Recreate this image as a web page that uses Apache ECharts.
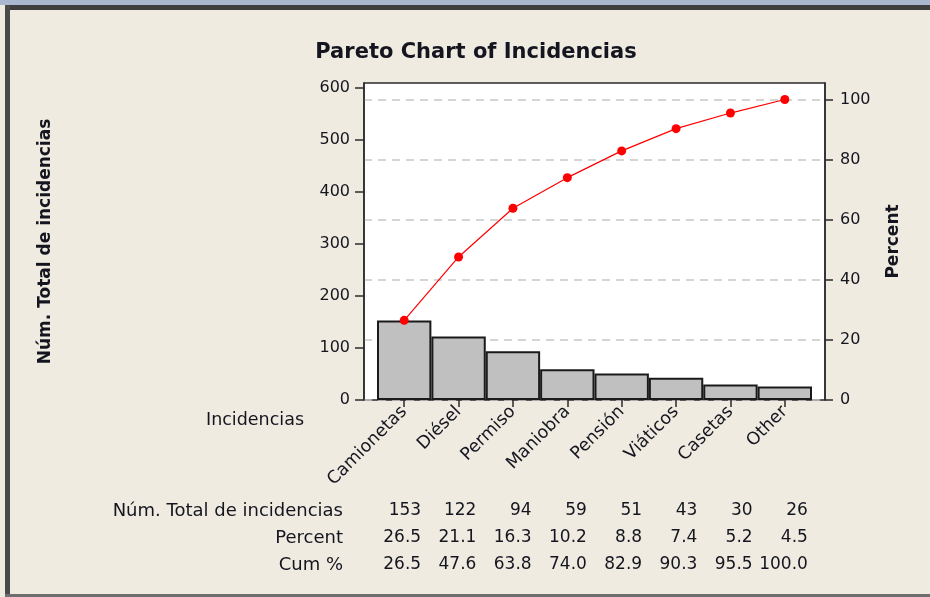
<!DOCTYPE html>
<html>
<head>
<meta charset="utf-8">
<script src="https://cdn.jsdelivr.net/npm/echarts@6/dist/echarts.min.js"></script>
<style>
  html, body { margin: 0; padding: 0; background: #EFEBE1; }
  #chart { width: 930px; height: 597px; }
</style>
</head>
<body>
<div id="chart"></div>
<script>
// Pareto data (Minitab style)
const categories = ['Camionetas', 'Diésel', 'Permiso', 'Maniobra', 'Pensión', 'Viáticos', 'Casetas', 'Other'];
const counts = [153, 122, 94, 59, 51, 43, 30, 26];
const percents = [26.5, 21.1, 16.3, 10.2, 8.8, 7.4, 5.2, 4.5];
const cumPercents = [26.5, 47.6, 63.8, 74.0, 82.9, 90.3, 95.5, 100.0];
const rowLabels = ['Núm. Total de incidencias', 'Percent', 'Cum %'];
const countTicks = [0, 100, 200, 300, 400, 500, 600];
const percentTicks = [0, 20, 40, 60, 80, 100];

const FONT = 'DejaVu Sans';
const INK = '#15151f';
const AXIS = '#2b2b2b';

// table cells: [column, row, text]
const tableCells = [];
counts.forEach((v, i) => tableCells.push([i, 0, String(v)]));
percents.forEach((v, i) => tableCells.push([i, 1, v.toFixed(1)]));
cumPercents.forEach((v, i) => tableCells.push([i, 2, v.toFixed(1)]));

const chart = echarts.init(document.getElementById('chart'), null, { renderer: 'canvas' });

chart.setOption({
  backgroundColor: '#EFEBE1',
  animation: false,
  textStyle: { fontFamily: FONT, color: INK },
  title: {
    text: 'Pareto Chart of Incidencias',
    left: 471,
    textAlign: 'center',
    top: 37,
    textStyle: { fontFamily: FONT, fontSize: 21, fontWeight: 'bold', color: INK }
  },
  graphic: [
    { type: 'rect', shape: { x: 0, y: 0, width: 930, height: 5 }, style: { fill: '#AAB8CF' }, silent: true },
    { type: 'rect', shape: { x: 5, y: 5, width: 925, height: 5 }, style: { fill: '#3e3e3e' }, silent: true },
    { type: 'rect', shape: { x: 5, y: 5, width: 5, height: 592 }, style: { fill: '#4a4a4a' }, silent: true },
    { type: 'rect', shape: { x: 5, y: 594, width: 925, height: 3 }, style: { fill: '#6e6e6e' }, silent: true }
  ],
  grid: [
    { left: 364, right: 105, top: 83, bottom: 197, show: true, backgroundColor: '#ffffff', borderColor: AXIS, borderWidth: 1.5 },
    { left: 377, right: 118, top: 83, bottom: 197 },
    { left: 394, right: 94, top: 498, height: 81 }
  ],
  xAxis: [
    { gridIndex: 0, type: 'value', min: 0, max: 1, show: false },
    {
      gridIndex: 1,
      type: 'category',
      data: categories,
      axisLine: { show: false },
      axisTick: { show: true, alignWithLabel: true, length: 7, lineStyle: { color: AXIS, width: 1.5 } },
      axisLabel: { rotate: 45, fontSize: 17.5, margin: 9, color: INK, fontFamily: FONT },
      name: 'Incidencias',
      nameLocation: 'start',
      nameGap: 73,
      nameTextStyle: { fontSize: 17.5, color: INK, fontFamily: FONT, align: 'right', verticalAlign: 'top', padding: [11, 0, 0, 0] }
    },
    { gridIndex: 2, type: 'category', data: categories, show: false }
  ],
  yAxis: [
    {
      gridIndex: 0,
      type: 'value',
      position: 'left',
      min: 0,
      max: 610,
      interval: 100,
      axisLine: { show: true, lineStyle: { color: AXIS, width: 1.5 } },
      axisTick: { show: true, length: 9, customValues: countTicks, lineStyle: { color: AXIS, width: 1.5 } },
      axisLabel: { fontSize: 16, margin: 14, color: INK, customValues: countTicks },
      splitLine: { show: false },
      name: 'Núm. Total de incidencias',
      nameLocation: 'middle',
      nameRotate: 90,
      nameGap: 310,
      nameTextStyle: { fontSize: 17, fontWeight: 'bold', color: INK, fontFamily: FONT }
    },
    {
      gridIndex: 0,
      type: 'value',
      position: 'right',
      min: 0,
      max: 105.5,
      interval: 20,
      axisLine: { show: true, lineStyle: { color: AXIS, width: 1.5 } },
      axisTick: { show: true, length: 8, customValues: percentTicks, lineStyle: { color: AXIS, width: 1.5 } },
      axisLabel: { fontSize: 16, margin: 15, color: INK, customValues: percentTicks },
      splitLine: { show: true, lineStyle: { color: '#c8c8c8', width: 1.5, type: [8, 6] } },
      name: 'Percent',
      nameLocation: 'middle',
      nameRotate: 90,
      nameGap: 60,
      nameTextStyle: { fontSize: 17, fontWeight: 'bold', color: INK, fontFamily: FONT }
    },
    { gridIndex: 1, type: 'value', min: 0, max: 610, show: false },
    { gridIndex: 1, type: 'value', min: 0, max: 105.5, show: false },
    {
      gridIndex: 2,
      type: 'category',
      data: rowLabels,
      inverse: true,
      axisLine: { show: false },
      axisTick: { show: false },
      axisLabel: { fontSize: 18, margin: 51, color: INK, fontFamily: FONT }
    }
  ],
  series: [
    {
      name: 'Núm. Total de incidencias',
      type: 'bar',
      xAxisIndex: 1,
      yAxisIndex: 2,
      data: counts,
      barGap: 0,
      barCategoryGap: 0,
      itemStyle: { color: '#c0c0c0', borderColor: '#1a1a1a', borderWidth: 2 },
      silent: true
    },
    {
      name: 'Cum %',
      type: 'line',
      xAxisIndex: 1,
      yAxisIndex: 3,
      data: cumPercents,
      symbol: 'circle',
      symbolSize: 9,
      itemStyle: { color: '#ff0000' },
      lineStyle: { color: '#ff0000', width: 1.2 },
      z: 5,
      silent: true
    },
    {
      name: 'table',
      type: 'scatter',
      xAxisIndex: 2,
      yAxisIndex: 4,
      data: tableCells,
      symbolSize: 1,
      itemStyle: { color: 'rgba(0,0,0,0)', opacity: 1 },
      label: {
        show: true,
        position: [0, 0],
        align: 'right',
        verticalAlign: 'middle',
        fontSize: 17,
        fontFamily: FONT,
        color: INK,
        opacity: 1,
        formatter: p => p.value[2]
      },
      silent: true
    }
  ]
});
</script>
</body>
</html>
